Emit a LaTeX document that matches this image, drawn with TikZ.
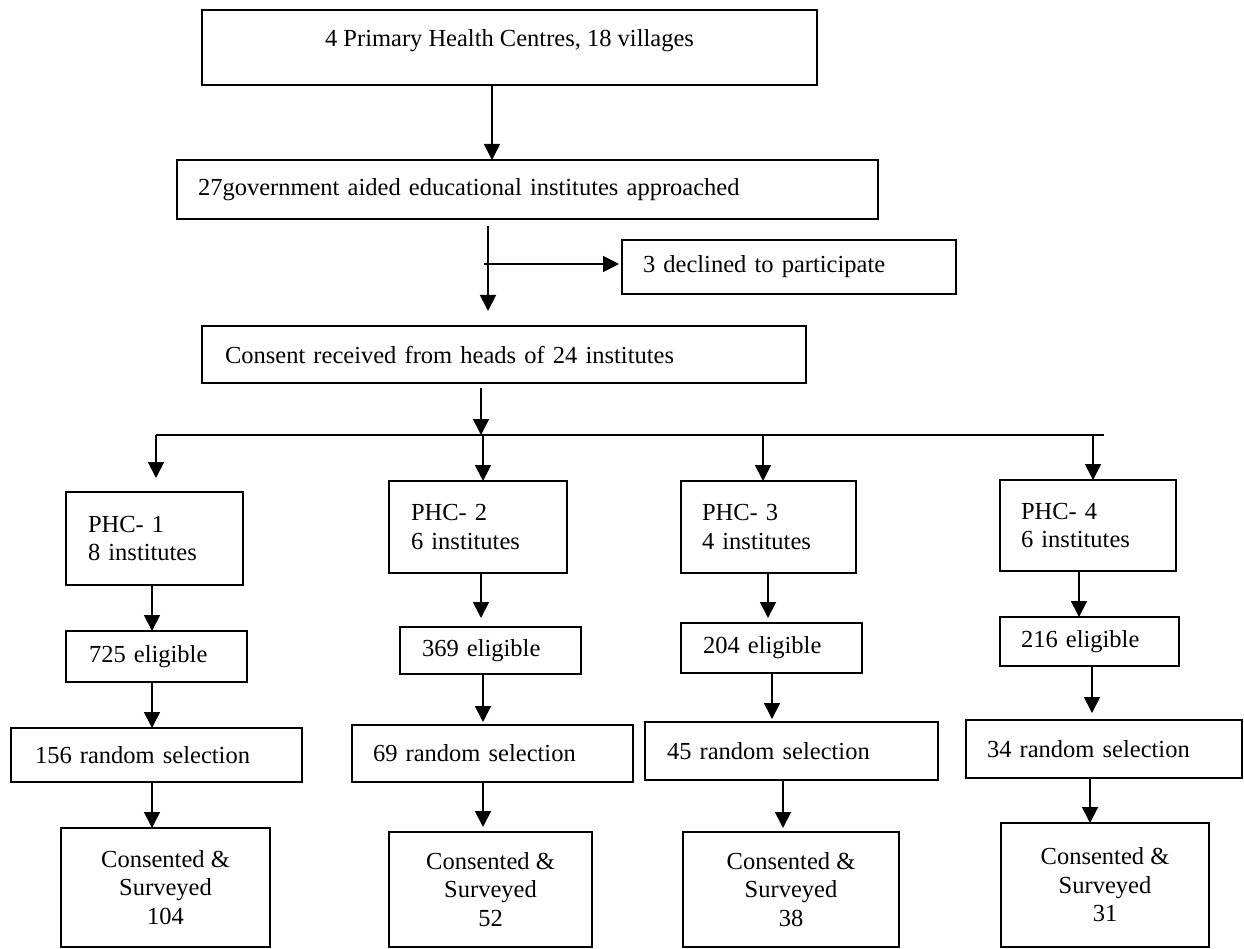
\documentclass[tikz,border=0pt]{standalone}
\usepackage{fontspec}
\setmainfont{Liberation Serif}
\usetikzlibrary{arrows.meta}

\begin{document}
\begin{tikzpicture}[x=1pt, y=-1pt,
  box/.style={draw, line width=1.8pt, anchor=north west, outer sep=0pt, inner ysep=0pt,
    font=\fontsize{24.5}{28.5}\selectfont},
  lbox/.style={box, align=left},
  cbox/.style={box, align=center},
  arr/.style={-{Triangle[length=16pt, width=16pt]}, line width=1.8pt}]

\useasboundingbox (0,0) rectangle (1244,949);

% === Cajas superiores ===
\node[cbox, minimum width=615pt, minimum height=75pt, text height=16.7pt, text depth=19.5pt]
  (phcs) at (202,10) {4 Primary Health Centres, 18 villages};
\node[lbox, minimum height=59pt, inner xsep=21pt, text width=659pt]
  (appr) at (177,160) {27government aided educational institutes approached};
\node[lbox, minimum height=54pt, inner xsep=21pt, text width=292pt]
  (decl) at (622,240) {3 declined to participate};
\node[lbox, minimum height=57pt, inner xsep=23pt, text width=558pt]
  (cons) at (202,326) {Consent received from heads of 24 institutes};

% Puntos de la rama y del reparto
\coordinate (split) at (484,264);
\coordinate (busL) at (156,435);
\coordinate (busR) at (1104,435);

% === Columnas PHC ===
\node[lbox, minimum height=93pt, inner xsep=22pt, text width=133pt] (phcA) at (66,492)  {PHC- 1\\8 institutes};
\node[lbox, minimum height=92pt, inner xsep=22pt, text width=134pt] (phcB) at (389,481) {PHC- 2\\6 institutes};
\node[lbox, minimum height=92pt, inner xsep=21pt, text width=133pt] (phcC) at (681,481) {PHC- 3\\4 institutes};
\node[lbox, minimum height=91pt, inner xsep=21pt, text width=134pt] (phcD) at (1000,480) {PHC- 4\\6 institutes};

% Elegibles
\node[lbox, minimum height=51pt, inner xsep=23pt, text width=135pt] (eligA) at (66,631)  {725 eligible};
\node[lbox, minimum height=47pt, inner xsep=22pt, text width=137pt] (eligB) at (400,627) {369 eligible};
\node[lbox, minimum height=50pt, inner xsep=22pt, text width=137pt] (eligC) at (681,623) {204 eligible};
\node[lbox, minimum height=49pt, inner xsep=21pt, text width=137pt] (eligD) at (1000,617) {216 eligible};

% Selección aleatoria
\node[lbox, minimum height=54pt, inner xsep=24pt, text width=243pt] (randA) at (11,728)  {156 random selection};
\node[lbox, minimum height=57pt, inner xsep=21pt, text width=239pt] (randB) at (352,725) {69 random selection};
\node[lbox, minimum height=58pt, inner xsep=22pt, text width=249pt] (randC) at (645,722) {45 random selection};
\node[lbox, minimum height=58pt, inner xsep=21pt, text width=234pt] (randD) at (966,720) {34 random selection};

% Encuestados
\node[cbox, minimum width=209pt, minimum height=119pt] (survA) at (61,828)   {Consented \&\\Surveyed\\104};
\node[cbox, minimum width=203pt, minimum height=115pt] (survB) at (389,832)  {Consented \&\\Surveyed\\52};
\node[cbox, minimum width=216pt, minimum height=115pt] (survC) at (683,832)  {Consented \&\\Surveyed\\38};
\node[cbox, minimum width=208pt, minimum height=124pt] (survD) at (1001,823) {Consented \&\\Surveyed\\31};

% === Flechas superiores ===
\draw[arr] (phcs.south -| 492,0) -- (appr.north -| 492,0);
\draw[arr, shorten <=7pt, shorten >=15pt] (appr.south -| 488,0) -- (cons.north -| 488,0);
\draw[arr, shorten >=3pt] (split) -- (decl.west |- split);
\draw[arr, shorten <=5pt] (cons.south -| 481,0) -- (busL -| 481,0);

% Reparto a los cuatro PHC
\draw[line width=1.8pt] (busL) -- (busR);
\draw[arr, shorten >=14pt] (busL) -- (phcA.north -| busL);
\draw[arr] (busL -| 483,0) -- (phcB.north -| 483,0);
\draw[arr] (busL -| 763,0) -- (phcC.north -| 763,0);
\draw[arr] (busL -| 1093,0) -- (phcD.north -| 1093,0);

% Columna 1
\draw[arr] (phcA.south -| 152,0) -- (eligA.north -| 152,0);
\draw[arr] (eligA.south -| 152,0) -- (randA.north -| 152,0);
\draw[arr] (randA.south -| 152,0) -- (survA.north -| 152,0);

% Columna 2
\draw[arr, shorten >=9pt] (phcB.south -| 481,0) -- (eligB.north -| 481,0);
\draw[arr, shorten >=3pt] (eligB.south -| 483,0) -- (randB.north -| 483,0);
\draw[arr, shorten >=5pt] (randB.south -| 483,0) -- (survB.north -| 483,0);

% Columna 3
\draw[arr, shorten >=5pt] (phcC.south -| 768,0) -- (eligC.north -| 768,0);
\draw[arr, shorten >=3pt] (eligC.south -| 772,0) -- (randC.north -| 772,0);
\draw[arr, shorten >=4pt] (randC.south -| 783,0) -- (survC.north -| 783,0);

% Columna 4
\draw[arr] (phcD.south -| 1079,0) -- (eligD.north -| 1079,0);
\draw[arr, shorten >=7pt] (eligD.south -| 1092,0) -- (randD.north -| 1092,0);
\draw[arr] (randD.south -| 1090,0) -- (survD.north -| 1090,0);

\end{tikzpicture}
\end{document}
